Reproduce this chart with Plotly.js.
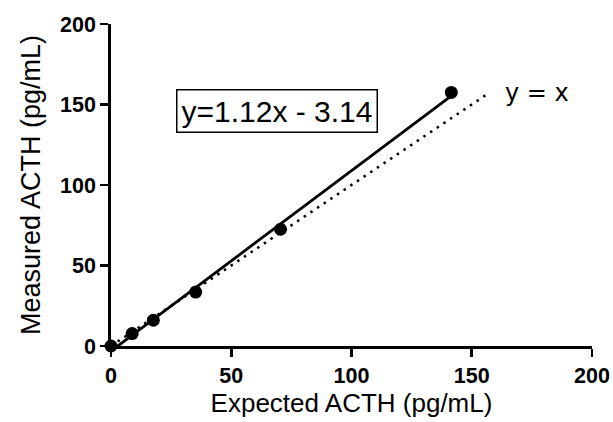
<!DOCTYPE html>
<html>
<head>
<meta charset="utf-8">
<script src="https://cdn.plot.ly/plotly-3.0.1.min.js"></script>
<style>html,body{margin:0;padding:0;background:#fff;}#chart{width:613px;height:422px;}</style>
</head>
<body>
<div id="chart"></div>
<script>
const expected = [0, 8.8, 17.6, 35.2, 70.5, 141.5];
const measured = [0, 7.7, 16, 33.5, 72.5, 157.5];
const fitX = [0, 141.5];
const fitY = [-3.14, 155.3];
const identityX = [0, 157];
const identityY = [0, 157];
const xTicks = [0, 50, 100, 150, 200];
const yTicks = [0, 50, 100, 150, 200];

const traces = [
  {x: identityX, y: identityY, mode: 'lines', line: {color: '#000', width: 2.5, dash: '2.5px,5.5px'}, hoverinfo: 'skip'},
  {x: fitX, y: fitY, mode: 'lines', line: {color: '#000', width: 2.8}, hoverinfo: 'skip'},
  {x: expected, y: measured, mode: 'markers', marker: {color: '#000', size: 13}, cliponaxis: false}
];

const FONT = 'Liberation Sans, Arial, sans-serif';
const axisCommon = {
  showline: true, linecolor: '#000', linewidth: 2.8,
  ticks: 'outside', ticklen: 8, tickwidth: 2.8, tickcolor: '#000',
  showgrid: false, zeroline: false,
  tickfont: {family: FONT, size: 21.5, color: '#000'}
};

const layout = {
  width: 613, height: 422,
  margin: {l: 111, r: 21, t: 24, b: 76},
  paper_bgcolor: '#fff', plot_bgcolor: '#fff',
  showlegend: false,
  xaxis: Object.assign({}, axisCommon, {
    range: [0, 200], tickvals: xTicks, ticktext: xTicks.map(v => '<b>' + v + '</b>'),
    title: {text: 'Expected ACTH (pg/mL)', font: {family: FONT, size: 26, color: '#000'}, standoff: 7}
  }),
  yaxis: Object.assign({}, axisCommon, {
    range: [0, 200], tickvals: yTicks, ticktext: yTicks.map(v => '<b>' + v + '</b>'),
    title: {text: 'Measured ACTH (pg/mL)', font: {family: FONT, size: 27, color: '#000'}, standoff: 12}
  }),
  annotations: [
    {x: 68.9, y: 145.8, xref: 'x', yref: 'y', text: 'y=1.12x - 3.14', showarrow: false,
     font: {family: FONT, size: 30, color: '#000'},
     bordercolor: '#000', borderwidth: 1.5, borderpad: 4, bgcolor: '#fff'},
    {x: 163, y: 157, xref: 'x', yref: 'y', text: 'y = x', showarrow: false, xanchor: 'left',
     font: {family: 'DejaVu Sans, sans-serif', size: 24, color: '#000'}}
  ]
};

Plotly.newPlot('chart', traces, layout, {displayModeBar: false, staticPlot: true});
</script>
</body>
</html>
